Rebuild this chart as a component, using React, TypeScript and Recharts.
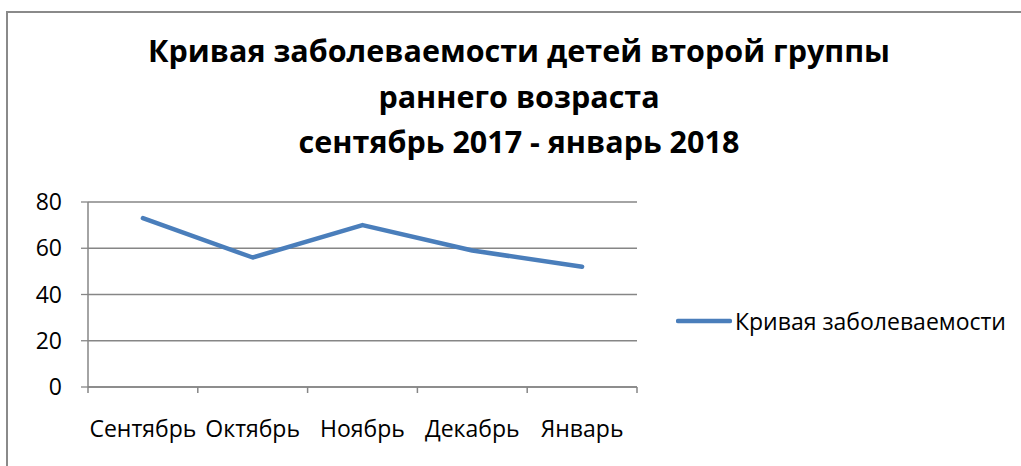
import React from 'react';
import { LineChart, Line, XAxis, YAxis, CartesianGrid, Legend } from 'recharts';

const categories = ['Сентябрь', 'Октябрь', 'Ноябрь', 'Декабрь', 'Январь'];
const values = [73, 56, 70, 59, 52];
const yTicks = [0, 20, 40, 60, 80];
const seriesName = 'Кривая заболеваемости';
const titleLines = [
  'Кривая заболеваемости детей второй группы',
  'раннего возраста',
  'сентябрь 2017 - январь 2018',
];

const data = categories.map((c, i) => ({ month: c, value: values[i] }));

const W = 1021;
const H = 466;
const FONT = '"Open Sans", "Noto Sans", sans-serif';
const LABEL_SIZE = 23;
const GRAY = '#868686';
const BLUE = '#4A7EBB';
const X_MARGIN = 50;

const XTick = (props: any) => {
  const { x, y, payload, index } = props;
  const half = payload && typeof payload.offset === 'number' && payload.offset > 0 ? payload.offset : 55;
  const axisY = y - X_MARGIN;
  return (
    <g>
      <line x1={x - half} y1={axisY} x2={x - half} y2={axisY + 6} stroke={GRAY} strokeWidth={1.5} />
      {index === categories.length - 1 && (
        <line x1={x + half} y1={axisY} x2={x + half} y2={axisY + 6} stroke={GRAY} strokeWidth={1.5} />
      )}
      <text x={x} y={y} textAnchor="middle" fill="#000" fontSize={LABEL_SIZE} fontFamily={FONT}>
        {payload.value}
      </text>
    </g>
  );
};

const LegendContent = () => (
  <div style={{ display: 'flex', alignItems: 'center', fontFamily: FONT, fontSize: LABEL_SIZE, color: '#000', whiteSpace: 'nowrap', lineHeight: '30px' }}>
    <svg width={56} height={8} style={{ display: 'block' }}>
      <line x1={2} y1={4} x2={54} y2={4} stroke={BLUE} strokeWidth={4.5} strokeLinecap="round" />
    </svg>
    <span style={{ marginLeft: 3 }}>{seriesName}</span>
  </div>
);

export default function App() {
  return (
    <div style={{ position: 'absolute', left: 0, top: 0, width: W, height: H, overflow: 'hidden', background: '#fff' }}>
      <div
        style={{
          position: 'absolute',
          left: 6,
          top: 11,
          width: W + 50,
          height: H + 50,
          borderLeft: '2px solid #8a8a8a',
          borderTop: '2px solid #8a8a8a',
        }}
      />
      <svg width={W} height={180} style={{ position: 'absolute', left: 0, top: 0 }}>
        {titleLines.map((t, i) => (
          <text
            key={i}
            x={519}
            y={62 + i * 45.5}
            textAnchor="middle"
            fontFamily={FONT}
            fontWeight="bold"
            fontSize={30.5}
            fill="#000"
          >
            {t}
          </text>
        ))}
      </svg>
      <div style={{ position: 'absolute', left: 0, top: 0 }}>
        <LineChart width={W} height={H} data={data} margin={{ top: 202, right: 384, bottom: 0, left: 0 }}>
          <CartesianGrid horizontal={true} vertical={false} stroke={GRAY} strokeWidth={1.3} />
          <XAxis
            dataKey="month"
            scale="band"
            height={79}
            tickLine={false}
            tickSize={0}
            tickMargin={X_MARGIN}
            axisLine={{ stroke: GRAY, strokeWidth: 1.5 }}
            tick={<XTick />}
            interval={0}
          />
          <YAxis
            domain={[0, 80]}
            ticks={yTicks}
            width={88}
            tickSize={7}
            tickMargin={19}
            tickLine={{ stroke: GRAY, strokeWidth: 1.3 }}
            axisLine={{ stroke: GRAY, strokeWidth: 1.5 }}
            tick={{ fill: '#000', fontSize: LABEL_SIZE, fontFamily: FONT }}
          />
          <Legend
            layout="vertical"
            align="center"
            verticalAlign="middle"
            content={<LegendContent />}
            wrapperStyle={{ position: 'absolute', left: 676, top: 306, width: 345 }}
          />
          <Line
            type="linear"
            dataKey="value"
            name={seriesName}
            stroke={BLUE}
            strokeWidth={4.5}
            strokeLinecap="round"
            strokeLinejoin="round"
            dot={false}
            activeDot={false}
            isAnimationActive={false}
          />
        </LineChart>
      </div>
    </div>
  );
}
